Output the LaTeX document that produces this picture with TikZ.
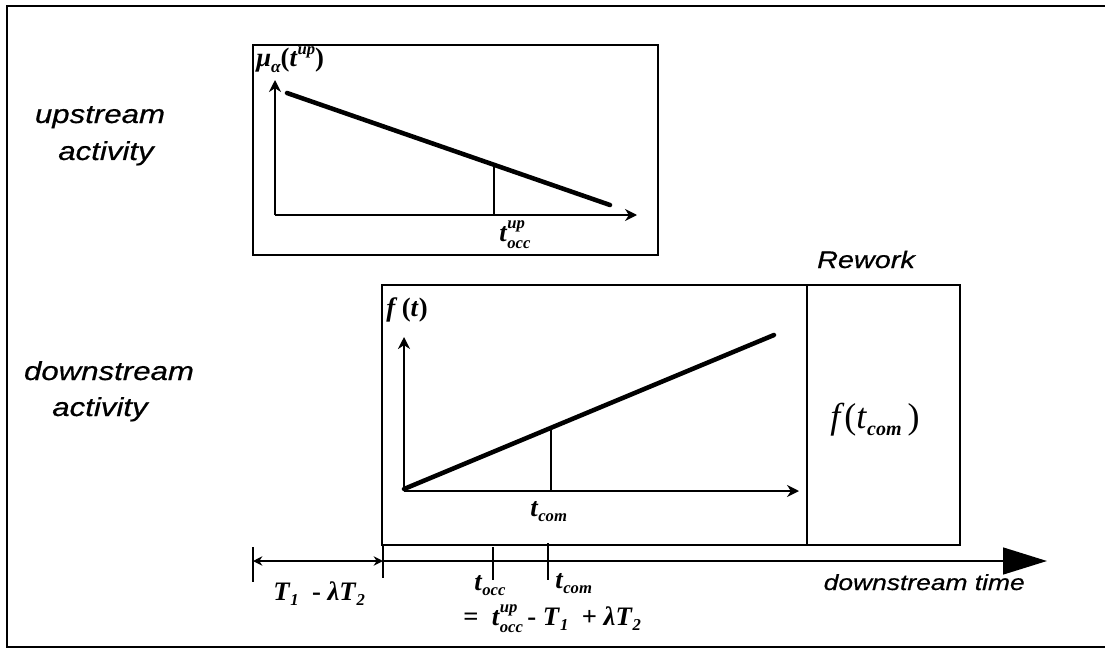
\documentclass[tikz,border=0pt]{standalone}
\usepackage{fontspec}
\setmainfont{Liberation Serif}
\newfontfamily\lab[FakeStretch=1.2,FakeBold=0.6]{Liberation Sans}
\usetikzlibrary{arrows.meta}
\newcommand{\ssb}[1]{\raisebox{-0.45ex}{\fontsize{12.5}{12.5}\selectfont\bfseries\itshape #1}}
\newcommand{\sps}[2]{\rlap{\raisebox{1.0ex}{\fontsize{12.5}{12.5}\selectfont\bfseries\itshape #1}}\raisebox{-0.6ex}{\fontsize{12.5}{12.5}\selectfont\bfseries\itshape #2}}
\begin{document}
\begin{tikzpicture}[x=0.75pt,y=-0.75pt,
  frame/.style={line width=1.7pt},
  box/.style={draw, line width=2pt},
  axis/.style={line width=2pt, -{Stealth[length=9pt,width=9pt]}},
  curve/.style={line width=3.4pt, line cap=round},
  drop/.style={line width=1.5pt},
  tickln/.style={line width=2.2pt},
  lbl/.style={font=\lab\itshape\fontsize{19.5}{22}\selectfont, inner sep=0pt},
  mt/.style={font=\bfseries\fontsize{20}{22}\selectfont, inner sep=0pt}]
\useasboundingbox (0,0) rectangle (1105,649);
% outer frame
\draw[frame] (1106,6) -- (7,6) -- (7,647) -- (1106,647);

% left labels
\node[lbl, anchor=base] (up1) at (100,123) {upstream};
\node[lbl, anchor=base] (up2) at (106,160) {activity};
\node[lbl, anchor=base] (dn1) at (109,380) {downstream};
\node[lbl, anchor=base] (dn2) at (100,416) {activity};

% upper box
\draw[box] (253,45) rectangle (658,255);
\coordinate (uo) at (275,215);
\coordinate (uy) at (275,80);
\coordinate (ux) at (637,215);
\coordinate (ua) at (287,93);
\coordinate (ub) at (610,205);
\coordinate (ut) at (494,166);
\coordinate (utb) at (494,215);
\draw[axis] (uo) -- (uy);
\draw[axis] (uo) -- (ux);
\draw[curve] (ua) -- (ub);
\draw[drop] (ut) -- (utb);
\node[mt, anchor=base west] (mulab) at (256,67) {\textit{μ}\raisebox{-0.45ex}{\fontsize{13}{13}\selectfont\itshape α}(\textit{t}\raisebox{1.0ex}{\fontsize{12.5}{12.5}\selectfont\bfseries\itshape up})};
\node[mt, anchor=base west] (tocc) at (499,241) {\textit{t}\sps{up}{occ}};

% lower box
\draw[box] (382,285) rectangle (960,545);
\coordinate (dtop) at (807,285);
\coordinate (dbot) at (807,545);
\draw[box] (dtop) -- (dbot);
\coordinate (lo) at (404,491);
\coordinate (ly) at (404,337);
\coordinate (lx) at (799,491);
\coordinate (la) at (404,489);
\coordinate (lb) at (774,335);
\coordinate (lt) at (551,428);
\coordinate (ltb) at (551,491);
\draw[axis] (lo) -- (ly);
\draw[axis] (lo) -- (lx);
\draw[curve] (la) -- (lb);
\draw[drop] (lt) -- (ltb);
\node[mt, anchor=base west] (flab) at (386,316) {\textit{f}\,(\textit{t})};
\node[mt, anchor=base west] (tcom) at (530,516) {\textit{t}\ssb{com}};
\node[inner sep=0pt, anchor=base west, font=\fontsize{27}{29}\selectfont] (ftcom) at (830,428) {\textit{f}(\textit{t}\raisebox{-0.45ex}{\fontsize{15}{15}\selectfont\bfseries\itshape com}\,)};
\node[lbl, anchor=base, font=\lab\itshape\fontsize{18}{20}\selectfont] (rework) at (866,268) {Rework};

% timeline
\coordinate (t0) at (253,561);
\coordinate (t1) at (383,561);
\coordinate (t2) at (493,561);
\coordinate (t3) at (548,561);
\coordinate (tend) at (1047,561);
\draw[line width=2pt, {Stealth[length=7pt,width=7pt]}-{Stealth[length=7pt,width=7pt]}] (t0) -- (t1);
\draw[line width=2pt, -{Triangle[length=33pt,width=20pt]}] (t1) -- (tend);
\draw[tickln] (253,547) -- (253,582);
\draw[tickln] (383,544) -- (383,578);
\draw[tickln] (493,547) -- (493,580);
\draw[tickln] (548,543) -- (548,580);
\node[mt, anchor=base west] (tl1) at (273,600) {\textit{T}\ssb{1}\ \ - \textit{λT}\ssb{2}};
\node[mt, anchor=base west] (tl2) at (474,590) {\textit{t}\ssb{occ}};
\node[mt, anchor=base west] (tl3) at (555,588) {\textit{t}\ssb{com}};
\node[mt, anchor=base west] (tl4) at (463,625) {=\ \ \textit{t}\sps{up}{occ}\,- \textit{T}\ssb{1}\ \ + \textit{λT}\ssb{2}};
\node[lbl, anchor=base east, font=\lab\itshape\fontsize{16.5}{18}\selectfont] (dtime) at (1025,590) {downstream time};
\end{tikzpicture}
\end{document}
